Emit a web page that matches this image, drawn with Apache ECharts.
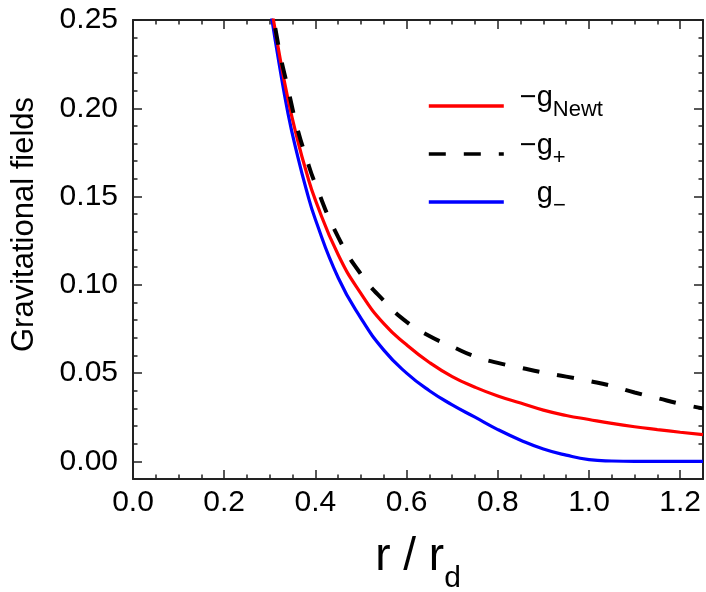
<!DOCTYPE html>
<html>
<head>
<meta charset="utf-8">
<script src="https://cdn.jsdelivr.net/npm/echarts@6/dist/echarts.min.js"></script>
<style>
html,body{margin:0;padding:0;background:#fff;}
#chart{width:706px;height:592px;}
</style>
</head>
<body>
<div id="chart"></div>
<script>
// r / r_d sample positions
const rGrid = [0.30, 0.32, 0.34, 0.36, 0.38, 0.40, 0.45, 0.50, 0.55, 0.60, 0.65, 0.70, 0.75, 0.80, 0.85, 0.90, 0.95, 1.00, 1.05, 1.10, 1.15, 1.20, 1.25];
// -g_Newt (red, solid)
const gNewt = [0.263, 0.232, 0.205, 0.183, 0.164, 0.148, 0.117, 0.095, 0.078, 0.066, 0.056, 0.048, 0.042, 0.037, 0.033, 0.029, 0.026, 0.0237, 0.0215, 0.0196, 0.018, 0.0165, 0.0151];
// -g_+ (black, dashed)
const gPlus = [0.265, 0.234, 0.211, 0.189, 0.172, 0.157, 0.127, 0.106, 0.091, 0.079, 0.071, 0.065, 0.0594, 0.0558, 0.053, 0.0503, 0.048, 0.0455, 0.0427, 0.039, 0.0358, 0.0326, 0.030];
// g_- (blue, solid)
const gMinus = [0.258, 0.226, 0.197, 0.174, 0.154, 0.137, 0.104, 0.081, 0.063, 0.050, 0.040, 0.032, 0.025, 0.018, 0.012, 0.007, 0.0035, 0.001, 0.0002, 0, 0, 0, 0];

const xMajorTicks = [0, 0.2, 0.4, 0.6, 0.8, 1.0, 1.2];
const xMinorTicks = [0.05, 0.1, 0.15, 0.25, 0.3, 0.35, 0.45, 0.5, 0.55, 0.65, 0.7, 0.75, 0.85, 0.9, 0.95, 1.05, 1.1, 1.15];
const yMajorTicks = [0, 0.05, 0.10, 0.15, 0.20, 0.25];
const yMinorTicks = [0.01, 0.02, 0.03, 0.04, 0.06, 0.07, 0.08, 0.09, 0.11, 0.12, 0.13, 0.14, 0.16, 0.17, 0.18, 0.19, 0.21, 0.22, 0.23, 0.24];

const xRange = [0, 1.25];
const yRange = [-0.01, 0.25];

const FONT = "'Liberation Sans', Arial, Helvetica, sans-serif";
const AX = '#222';

const chart = echarts.init(document.getElementById('chart'), null, {renderer: 'canvas'});

function xAx(pos, ticks, len, withLine, withLabel, extra) {
  return Object.assign({
    type: 'value', position: pos, min: xRange[0], max: xRange[1],
    splitLine: {show: false},
    axisLine: {show: withLine, onZero: false, lineStyle: {color: AX, width: 2}},
    axisTick: {show: true, inside: true, length: len, customValues: ticks, lineStyle: {color: AX, width: 1.5}},
    axisLabel: withLabel ? {show: true, customValues: ticks, formatter: v => v.toFixed(1), fontSize: 30, fontFamily: FONT, color: '#000', margin: 9} : {show: false}
  }, extra || {});
}
function yAx(pos, ticks, len, withLine, withLabel, extra) {
  return Object.assign({
    type: 'value', position: pos, min: yRange[0], max: yRange[1],
    splitLine: {show: false},
    axisLine: {show: withLine, onZero: false, lineStyle: {color: AX, width: 2}},
    axisTick: {show: true, inside: true, length: len, customValues: ticks, lineStyle: {color: AX, width: 1.5}},
    axisLabel: withLabel ? {show: true, customValues: ticks, formatter: v => v.toFixed(2), fontSize: 30, fontFamily: FONT, color: '#000', margin: 15} : {show: false}
  }, extra || {});
}

const legendText = {
  newt: '{a|−g}{s|Newt}',
  plus: '{a|−g}{s|+}',
  minus: '{b|g}{s|−}'
};

const option = {
  animation: false,
  backgroundColor: '#fff',
  grid: {left: 133, right: 3, top: 20, bottom: 113, containLabel: false, outerBoundsMode: 'none'},
  xAxis: [
    xAx('bottom', xMajorTicks, 9, true, true, {
      name: '{r|r / r}{d|d}', nameLocation: 'middle', nameGap: 69,
      nameTextStyle: {rich: {
        r: {fontSize: 46, fontFamily: FONT, color: '#000', lineHeight: 46, padding: [0, 0, 14, 0], verticalAlign: 'bottom'},
        d: {fontSize: 30, fontFamily: FONT, color: '#000', lineHeight: 30, verticalAlign: 'bottom'}
      }}
    }),
    xAx('bottom', xMinorTicks, 4.5, false, false),
    xAx('top', xMajorTicks, 9, true, false),
    xAx('top', xMinorTicks, 4.5, false, false)
  ],
  yAxis: [
    yAx('left', yMajorTicks, 9, true, true, {
      name: 'Gravitational fields', nameLocation: 'middle', nameGap: 93,
      nameTextStyle: {fontSize: 31, fontFamily: FONT, color: '#000', padding: [0, 0, 0, 50]}
    }),
    yAx('left', yMinorTicks, 4.5, false, false),
    yAx('right', yMajorTicks, 9, true, false),
    yAx('right', yMinorTicks, 4.5, false, false)
  ],
  legend: {
    orient: 'vertical', left: 427, top: 75, padding: 0,
    itemWidth: 75, itemHeight: 14, itemGap: 2,
    data: ['newt', 'plus', 'minus'],
    itemStyle: {opacity: 0},
    lineStyle: {width: 3.6},
    formatter: name => legendText[name],
    textStyle: {
      rich: {
        a: {fontSize: 29, fontFamily: FONT, color: '#000', lineHeight: 30, padding: [8, 0, 9, 11], verticalAlign: 'bottom'},
        b: {fontSize: 29, fontFamily: FONT, color: '#000', lineHeight: 30, padding: [8, 0, 9, 28], verticalAlign: 'bottom'},
        s: {fontSize: 22, fontFamily: FONT, color: '#000', lineHeight: 22, verticalAlign: 'bottom'}
      }
    }
  },
  series: [
    {
      name: 'minus', type: 'line', xAxisIndex: 0, yAxisIndex: 0,
      data: rGrid.map((x, i) => [x, gMinus[i]]),
      symbol: 'none', showSymbol: false, smooth: 0.5,
      lineStyle: {color: '#0000ff', width: 3.2}, itemStyle: {color: '#0000ff'}, z: 3
    },
    {
      name: 'newt', type: 'line', xAxisIndex: 0, yAxisIndex: 0,
      data: rGrid.map((x, i) => [x, gNewt[i]]),
      symbol: 'none', showSymbol: false, smooth: 0.5,
      lineStyle: {color: '#ff0000', width: 3.2}, itemStyle: {color: '#ff0000'}, z: 4
    },
    {
      name: 'plus', type: 'line', xAxisIndex: 0, yAxisIndex: 0,
      data: rGrid.map((x, i) => [x, gPlus[i]]),
      symbol: 'none', showSymbol: false, smooth: 0.5,
      lineStyle: {color: '#000000', width: 4, type: [17, 18], cap: 'butt'}, itemStyle: {color: '#000000'}, z: 5
    }
  ]
};
chart.setOption(option);
</script>
</body>
</html>
